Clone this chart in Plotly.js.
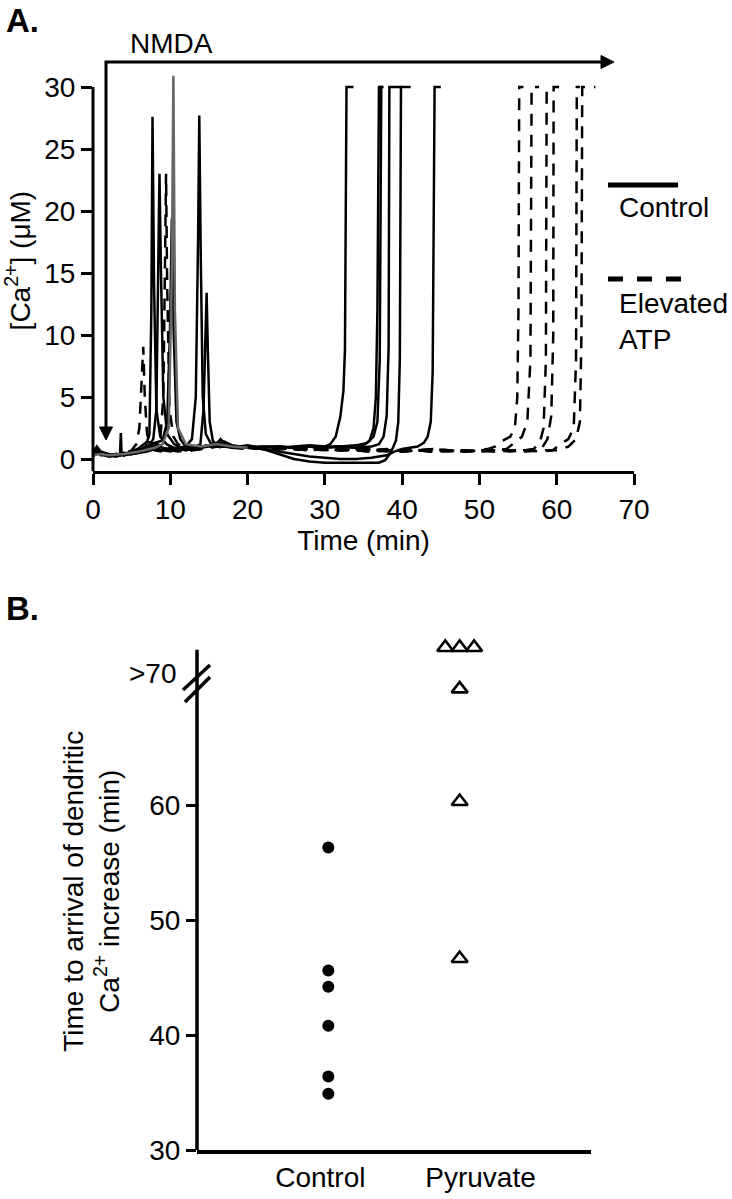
<!DOCTYPE html>
<html>
<head>
<meta charset="utf-8">
<script src="https://cdn.plot.ly/plotly-3.0.1.min.js"></script>
<style>html,body{margin:0;padding:0;background:#fff;}#chart{width:732px;height:1199px;}</style>
</head>
<body>
<div id="chart"></div>
<script>
// ---------------- Panel A data: [Ca2+] (uM) vs time (min) ----------------
// Control (solid) traces
const ctl1_t = [0,0.4,1,2,3,4,5,6,6.8,7.3,7.55,7.7,7.9,8.2,8.7,9.5,10.5,12,13,14,15,16,17,18,19,20,22,24,26,28,29,30,30.7,31.4,32,32.4,32.6,32.8,33.7];
const ctl1_y = [0.3,0.9,0.4,0.3,0.4,0.3,0.5,0.7,1.0,2.0,12,27.6,14,4,1.8,1.2,0.9,0.8,0.9,1.0,1.1,1.2,1.4,1.1,1.0,1.1,0.9,1.0,0.9,1.0,0.9,1.0,1.2,1.8,3.4,5.5,8.8,30,30];
const ctl2_t = [0,0.5,1,2,3,4,5,6,7,7.8,8.2,8.45,8.6,8.8,9.1,9.6,10.5,12,13,14,15,16,17,18,20,22,24,26,28,30,32,34,35,35.8,36.3,36.6,36.8,37.0,37.5];
const ctl2_y = [0.2,0.8,0.5,0.2,0.3,0.4,0.4,0.6,0.9,1.6,4,14,23,15,5,2,1.2,0.7,0.8,0.9,1.0,1.1,1.0,1.0,0.9,1.0,1.0,0.9,1.0,0.9,1.0,0.9,1.1,1.5,2.5,5,12,30,30];
const ctl3_t = [0,0.5,1,2,3,4,5,6,7,8,9,10,11,12,12.8,13.3,13.6,13.75,13.95,14.2,14.6,15.2,16,16.5,17,18,19,20,22,24,26,28,30,32,34,35.5,36.3,36.8,37.1,37.3,37.6];
const ctl3_y = [0.4,1.0,0.6,0.4,0.3,0.5,0.4,0.6,0.8,0.9,0.7,0.8,0.9,1.0,1.6,5,18,27.7,16,5,2,1.3,1.2,1.6,1.3,1.1,1.0,0.9,1.0,0.9,1.0,1.1,1.0,1.0,1.1,1.3,1.8,3,8,30,30];
const ctl4_t = [0,0.5,1,2,3,3.5,3.6,3.7,4,5,6,7,8,9,9.6,9.95,10.2,10.45,10.8,11.3,12,13,14,15,16,17,18,20,22,24,26,28,30,32,34,36,37,37.6,38.0,38.25,38.35,39.9];
const ctl4_y = [0.3,0.7,0.4,0.3,0.3,0.4,2.1,0.4,0.3,0.5,0.6,1.0,1.3,1.5,3,10,19.4,10,3,1.6,1.0,0.9,1.0,1.1,1.2,1.3,1.0,1.0,0.9,1.0,0.9,1.0,0.9,1.0,0.9,1.0,1.2,1.8,3.5,9,30,30];
const ctl5_t = [0,0.5,1,2,3,4,5,6,7,8,9,10,11,12,13,13.9,14.3,14.55,14.7,14.85,15.1,15.5,16,17,18,20,22,24,26,28,30,32,34,36,37,37.8,38.4,38.8,39.2,39.5,39.7,39.85,41.1];
const ctl5_y = [0.2,0.6,0.4,0.2,0.3,0.3,0.4,0.5,0.6,0.8,0.7,0.6,0.8,0.7,0.9,1.2,4,10,13.4,9,3,1.5,1.1,1.0,0.9,0.9,0.8,0.4,0.0,-0.2,-0.3,-0.3,-0.3,-0.35,-0.3,-0.1,0.4,0.9,1.5,3,8,30,30];
const ctl6_t = [0,0.5,1,2,3,4,5,6,7,8,9,10,11,12,13,14,15,16,17,18,20,22,24,26,28,30,32,34,36,38,39,40,41,42,42.8,43.3,43.7,43.95,44.2,45.0];
const ctl6_y = [0.3,0.7,0.3,0.3,0.2,0.4,0.6,0.9,1.4,1.2,0.9,0.8,0.7,0.8,0.9,1.0,1.1,1.3,1.2,1.0,0.9,0.8,0.6,0.4,0.2,0.1,0.0,0.0,0.1,0.3,0.6,0.8,0.9,1.0,1.3,1.8,3,7,30,30];
// grey transient trace
const grey_t = [0,1,2,4,6,8,9,9.8,10.2,10.4,10.6,11,12,14,16,18,20];
const grey_y = [0.3,0.4,0.3,0.4,0.6,0.9,1.2,2.5,15,30.9,12,2.5,1.2,1.0,1.2,1.0,0.9];
// Elevated ATP (dashed) traces
const atp1_t = [0,0.5,1,2,3,4,5,5.6,6.0,6.3,6.5,6.7,7.0,7.5,8,9,10,11,12,13,14,15,16,17,18,20,22,24,26,28,30,32,34,36,38,40,42,44,46,48,50,51,52,52.8,54.0,54.6,54.9,55.05,55.15,55.7];
const atp1_y = [0.3,0.8,0.4,0.3,0.3,0.4,0.7,1.2,2.5,6,9.05,5,2,1.0,0.7,0.6,0.7,0.8,0.7,0.8,0.9,1.0,1.1,1.0,0.9,0.9,0.8,0.9,0.8,0.8,0.7,0.8,0.7,0.8,0.7,0.6,0.7,0.8,0.7,0.6,0.7,0.8,1.0,1.4,1.8,2.6,5,12,30,30];
const atp2_t = [0,0.5,1,2,3,4,5,6,7,8,8.7,9.1,9.3,9.45,9.6,9.9,10.4,11,12,13,14,15,16,17,18,20,22,24,26,28,30,32,34,36,38,40,42,44,46,48,50,52,53.5,54.5,55.5,56.2,56.6,56.75,57.7];
const atp2_y = [0.2,0.9,0.5,0.3,0.4,0.3,0.5,0.6,0.8,1.0,1.5,5,15,23,14,4,1.8,1.2,0.9,0.8,0.9,1.0,1.0,0.9,0.9,1.0,0.9,0.8,0.8,0.7,0.8,0.7,0.8,0.7,0.6,0.7,0.7,0.6,0.7,0.7,0.6,0.7,0.8,1.3,1.8,3,8,30,30];
const atp3_t = [0,0.5,1,2,3,4,5,6,7,8,9,10,11,12,13,14,15,16,17,18,20,22,24,26,28,30,32,34,36,38,40,42,44,46,48,50,52,54,56,57,57.8,58.3,58.6,58.7,59.0];
const atp3_y = [0.3,0.7,0.3,0.2,0.3,0.3,0.4,0.5,0.7,0.9,1.1,0.9,0.7,0.6,0.7,0.8,0.9,1.0,1.1,0.9,0.8,0.9,0.8,0.8,0.7,0.8,0.7,0.7,0.6,0.7,0.6,0.7,0.6,0.7,0.6,0.7,0.6,0.7,0.7,0.8,1.3,2.5,8,30,30];
const atp4_t = [0,0.5,1,2,3,4,5,6,7,8,9,10,11,12,14,16,18,20,22,24,26,28,30,32,34,36,38,40,42,44,46,48,50,52,54,56,58,58.8,59.3,59.55,59.6,60.3];
const atp4_y = [0.4,0.9,0.5,0.4,0.3,0.5,0.6,0.8,1.0,1.3,1.0,0.8,0.7,0.8,0.9,1.2,1.0,0.9,0.9,0.8,0.9,0.8,0.8,0.7,0.8,0.7,0.8,0.7,0.7,0.8,0.7,0.6,0.7,0.8,0.7,0.7,0.8,1.6,3.5,10,30,30];
const atp5_t = [0,0.5,1,2,3,4,5,6,7,8,9,10,11,12,14,16,18,20,22,24,26,28,30,32,34,36,38,40,42,44,46,48,50,52,54,56,58,59.5,60.5,61.5,62.2,62.5,62.6,63.0];
const atp5_y = [0.2,0.7,0.4,0.3,0.2,0.4,0.5,0.7,0.9,1.1,0.9,0.7,0.6,0.7,0.8,1.0,1.0,0.9,0.8,0.9,0.8,0.7,0.8,0.7,0.7,0.6,0.7,0.6,0.7,0.6,0.6,0.7,0.6,0.7,0.6,0.7,0.6,0.7,1.2,1.6,2.5,8,30,30];
const atp6_t = [0,0.5,1,2,3,4,5,6,7,8,9,10,11,12,14,16,18,20,22,24,26,28,30,32,34,36,38,40,42,44,46,48,50,52,54,56,58,60,61.5,62.5,63.0,63.2,63.3,65.0];
const atp6_y = [0.3,0.8,0.4,0.3,0.4,0.3,0.5,0.6,0.8,1.0,1.2,0.9,0.8,0.7,0.9,1.1,1.0,1.0,0.9,0.9,0.8,0.9,0.8,0.8,0.7,0.8,0.7,0.7,0.7,0.6,0.7,0.6,0.7,0.6,0.7,0.6,0.7,0.7,1.0,1.6,3,10,30,30];

const xTicksA = [0,10,20,30,40,50,60,70];
const yTicksA = [0,5,10,15,20,25,30];

// ---------------- Panel B data: time to arrival (min) ----------------
const groupLabels = ['Control','Pyruvate'];
const groupPos = [1,2];
const ctrlX = [1.05,1.05,1.05,1.05,1.05,1.05];
const ctrlY = [56.3,45.6,44.2,40.8,36.4,34.9];
const pyrX = [1.78,1.87,1.96,1.87,1.87,1.87];
const pyrY = [73.7,73.7,73.7,70.1,60.3,46.65];
const yTicksB = [30,40,50,60];

// ---------------- layout helpers (pixel -> paper) ----------------
const W = 732, H = 1199;
const PX = p => p / W;
const PY = p => 1 - p / H;
const FONT = 'Liberation Sans, Arial, Helvetica, sans-serif';

const solid = {color:'#000', width:2.5};
const dashed = {color:'#000', width:2.5, dash:'12px,9px'};
const ctlSets = [[ctl1_t,ctl1_y],[ctl2_t,ctl2_y],[ctl3_t,ctl3_y],[ctl4_t,ctl4_y],[ctl5_t,ctl5_y],[ctl6_t,ctl6_y]];
const atpSets = [[atp1_t,atp1_y],[atp2_t,atp2_y],[atp3_t,atp3_y],[atp4_t,atp4_y],[atp5_t,atp5_y],[atp6_t,atp6_y]];

const traces = [];
atpSets.forEach(s => traces.push({type:'scatter', mode:'lines', x:s[0], y:s[1], line:dashed, name:'Elevated ATP', xaxis:'x', yaxis:'y', hoverinfo:'skip'}));
ctlSets.forEach(s => traces.push({type:'scatter', mode:'lines', x:s[0], y:s[1], line:solid, name:'Control', xaxis:'x', yaxis:'y', hoverinfo:'skip'}));
traces.push({type:'scatter', mode:'lines', x:grey_t, y:grey_y, line:{color:'#666', width:2.5}, name:'Control', xaxis:'x', yaxis:'y', hoverinfo:'skip'});

traces.push({type:'scatter', mode:'markers', x:ctrlX, y:ctrlY, xaxis:'x2', yaxis:'y2', cliponaxis:false,
  marker:{symbol:'circle', size:12, color:'#000'}, name:'Control'});
traces.push({type:'scatter', mode:'markers', x:pyrX, y:pyrY, xaxis:'x2', yaxis:'y2', cliponaxis:false,
  marker:{symbol:'triangle-up-open', size:14, color:'#000', line:{color:'#000', width:2.6}}, name:'Pyruvate'});

// panel A geometry: x 0..70 -> 93..634 px ; y 0 -> 459 px, 12.4 px/unit
const yA0 = -1, yA1 = 33;
const domAy = [PY(459 - yA0*12.4), PY(459 - yA1*12.4)];
// panel B geometry: y 30 -> 1150 px, 11.5 px/unit ; axis line drawn up to 73.5
const yB0 = 30, yB1 = 75;
const domBy = [PY(1150), PY(1150 - (yB1 - yB0)*11.5)];

const nmdaPath = 'M' + PX(106) + ',' + PY(428) + ' L' + PX(106) + ',' + PY(62) + ' L' + PX(603) + ',' + PY(62);
const headR = 'M' + PX(601) + ',' + PY(55.5) + ' L' + PX(614) + ',' + PY(62) + ' L' + PX(601) + ',' + PY(68.5) + ' Z';
const headD = 'M' + PX(99.5) + ',' + PY(427) + ' L' + PX(106) + ',' + PY(440) + ' L' + PX(112.5) + ',' + PY(427) + ' Z';

const layout = {
  width: W, height: H,
  margin: {l:0, r:0, t:0, b:0},
  paper_bgcolor:'#fff', plot_bgcolor:'#fff',
  showlegend:false,
  font:{family:FONT, size:28, color:'#000'},
  xaxis:{domain:[PX(93), PX(634)], range:[0,70], anchor:'y', showgrid:false, zeroline:false,
    showline:true, linewidth:3, linecolor:'#000', ticks:'outside', ticklen:11, tickwidth:3, tickcolor:'#000',
    tickvals:xTicksA, tickfont:{size:28}, title:{text:'Time (min)', font:{size:28}, standoff:6}},
  yaxis:{domain:domAy, range:[yA0,yA1], anchor:'x', showgrid:false, zeroline:false,
    showline:false, ticks:'outside', ticklen:11, tickwidth:3, tickcolor:'#000',
    tickvals:yTicksA, tickfont:{size:28}, title:{text:'[Ca<sup>2+</sup>] (μM)', font:{size:28}, standoff:12}},
  xaxis2:{domain:[PX(197), PX(591)], range:[0.23,2.69], anchor:'y2', showgrid:false, zeroline:false,
    showline:true, linewidth:3.5, linecolor:'#000', ticks:'', tickvals:groupPos, ticktext:groupLabels, tickfont:{size:28}},
  yaxis2:{domain:domBy, range:[yB0,yB1], anchor:'x2', showgrid:false, zeroline:false,
    showline:false, ticks:'outside', ticklen:10, tickwidth:3, tickcolor:'#000',
    tickvals:yTicksB, tickfont:{size:28},
    title:{text:'Time to arrival of dendritic<br>Ca<sup>2+</sup> increase (min)', font:{size:28}, standoff:21}},
  shapes:[
    {type:'line', xref:'paper', yref:'y', x0:PX(93), x1:PX(93), y0:-1, y1:30, line:{color:'#000', width:3}},
    {type:'line', xref:'paper', yref:'y2', x0:PX(197), x1:PX(197), y0:30, y1:73.5, line:{color:'#000', width:3.5}},
    {type:'path', xref:'paper', yref:'paper', path:nmdaPath, line:{color:'#000', width:3}, fillcolor:'rgba(0,0,0,0)'},
    {type:'path', xref:'paper', yref:'paper', path:headR, line:{color:'#000', width:1}, fillcolor:'#000'},
    {type:'path', xref:'paper', yref:'paper', path:headD, line:{color:'#000', width:1}, fillcolor:'#000'},
    {type:'line', xref:'paper', yref:'paper', x0:PX(608), x1:PX(678), y0:PY(185), y1:PY(185), line:{color:'#000', width:5}},
    {type:'line', xref:'paper', yref:'paper', x0:PX(608), x1:PX(685), y0:PY(279), y1:PY(279), line:{color:'#000', width:5, dash:'15px,14px'}},
    {type:'line', xref:'paper', yref:'paper', x0:PX(183), x1:PX(210), y0:PY(690), y1:PY(665), line:{color:'#000', width:3.5}},
    {type:'line', xref:'paper', yref:'paper', x0:PX(185), x1:PX(210), y0:PY(702), y1:PY(677), line:{color:'#000', width:3.5}}
  ],
  annotations:[
    {xref:'paper', yref:'paper', x:PX(4), y:PY(20), xanchor:'left', yanchor:'middle', showarrow:false, text:'<b>A.</b>', font:{size:33}},
    {xref:'paper', yref:'paper', x:PX(4), y:PY(608), xanchor:'left', yanchor:'middle', showarrow:false, text:'<b>B.</b>', font:{size:33}},
    {xref:'paper', yref:'paper', x:PX(171), y:PY(43), xanchor:'center', yanchor:'middle', showarrow:false, text:'NMDA', font:{size:28}},
    {xref:'paper', yref:'paper', x:PX(617), y:PY(208), xanchor:'left', yanchor:'middle', showarrow:false, text:'Control', font:{size:28}},
    {xref:'paper', yref:'paper', x:PX(617), y:PY(321), xanchor:'left', yanchor:'middle', showarrow:false, align:'left', text:'Elevated<br>ATP', font:{size:28}},
    {xref:'paper', yref:'paper', x:PX(179), y:PY(673), xanchor:'right', yanchor:'middle', showarrow:false, text:'>70', font:{size:28}}
  ]
};

Plotly.newPlot('chart', traces, layout, {displayModeBar:false, staticPlot:true});
</script>
</body>
</html>
